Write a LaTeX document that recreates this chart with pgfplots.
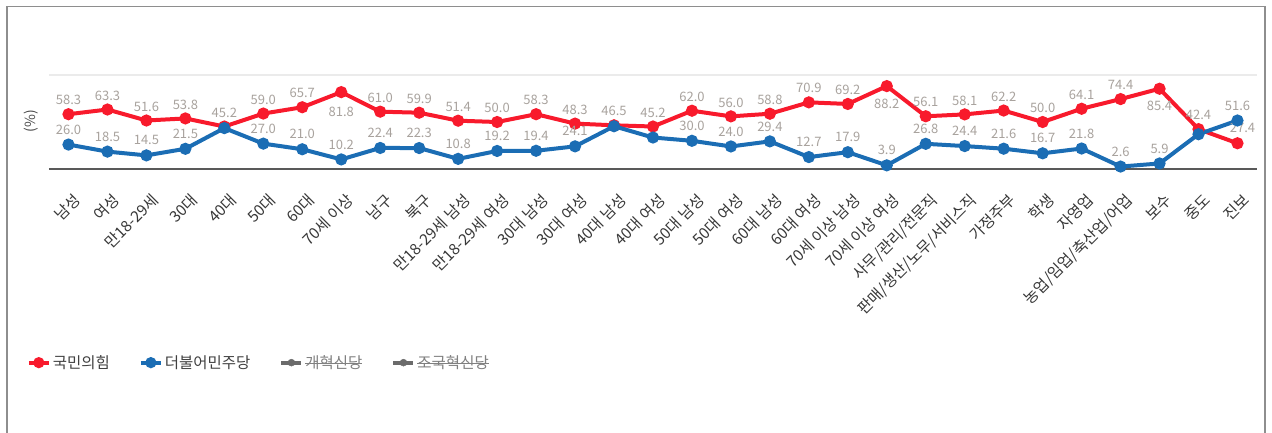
\documentclass[border=0pt]{standalone}
\usepackage{fontspec}
\setmainfont{Noto Sans CJK KR}
\usepackage{pgfplots}
\usepackage{pgfplotstable}
\pgfplotsset{compat=1.18}

\definecolor{ppp}{HTML}{F81A2C}
\definecolor{dem}{HTML}{1B6DB4}
\definecolor{labgray}{HTML}{A8A29D}
\definecolor{framegray}{HTML}{8E8E8E}
\definecolor{hidden}{HTML}{6B6B6B}

\newcommand\strike[1]{\setbox0\hbox{#1}\rlap{\rule[0.33em]{\wd0}{0.7pt}}\box0}

% x  value  label  yshift  xshift
\pgfplotstableread{
x y lab off xo
0 58.3 58.3 14 0
1 63.3 63.3 14 0
2 51.6 51.6 14 0
3 53.8 53.8 14 0
4 45.2 45.2 14 0
5 59.0 59.0 14 0
6 65.7 65.7 14 0
7 81.8 81.8 -20 0
8 61.0 61.0 14 0
9 59.9 59.9 14 0
10 51.4 51.4 14 0
11 50.0 50.0 14 0
12 58.3 58.3 14 0
13 48.3 48.3 14 0
14 46.5 46.5 14 0
15 45.2 45.2 14 0
16 62.0 62.0 14 0
17 56.0 56.0 14 0
18 58.8 58.8 14 0
19 70.9 70.9 14 0
20 69.2 69.2 14 0
21 88.2 88.2 -18 0
22 56.1 56.1 14 0
23 58.1 58.1 14 0
24 62.2 62.2 14 0
25 50.0 50.0 14 0
26 64.1 64.1 14 0
27 74.4 74.4 14 0
28 85.4 85.4 -17 0
29 42.4 42.4 14 0
30 27.4 27.4 15 5
}\pppdata

\pgfplotstableread{
x y lab off xo
0 26.0 26.0 15 0
1 18.5 18.5 15 0
2 14.5 14.5 15 0
3 21.5 21.5 15 0
4 43.5 {} 15 0
5 27.0 27.0 15 0
6 21.0 21.0 15 0
7 10.2 10.2 15 0
8 22.4 22.4 15 0
9 22.3 22.3 15 0
10 10.8 10.8 15 0
11 19.2 19.2 15 0
12 19.4 19.4 15 0
13 24.1 24.1 15 0
14 45.5 {} 15 0
15 33.5 {} 15 0
16 30.0 30.0 15 0
17 24.0 24.0 15 0
18 29.4 29.4 15 0
19 12.7 12.7 15 0
20 17.9 17.9 15 0
21 3.9 3.9 15 0
22 26.8 26.8 15 0
23 24.4 24.4 15 0
24 21.6 21.6 15 0
25 16.7 16.7 15 0
26 21.8 21.8 15 0
27 2.6 2.6 15 0
28 5.9 5.9 15 0
29 37.0 {} 15 0
30 51.6 51.6 15 0
}\demdata

\begin{document}
\begin{tikzpicture}
\useasboundingbox (0,0) rectangle (1272pt,-432pt);
\draw[framegray, line width=1.5pt] (7pt,-445pt) -- (7pt,-6.5pt) -- (1265pt,-6.5pt) -- (1265pt,-445pt);
\node[rotate=90, text=black!70, font=\fontsize{14}{16}\selectfont] at (31pt,-121pt) {(\%)};
\begin{axis}[
    at={(49pt,-169pt)}, anchor=south west,
    scale only axis, width=1208pt, height=94pt,
    xmin=-0.5, xmax=30.5, ymin=0, ymax=100,
    axis x line*=bottom, axis y line*=left,
    y axis line style={draw=none},
    x axis line style={-, draw=black!65, line width=1.5pt},
    ytick={100}, yticklabels={}, ymajorgrids,
    major grid style={draw=black!8, line width=1.5pt},
    major tick length=0pt,
    xtick={0,...,30},
    xticklabels={남성,여성,만18-29세,30대,40대,50대,60대,70세 이상,남구,북구,만18-29세 남성,만18-29세 여성,30대 남성,30대 여성,40대 남성,40대 여성,50대 남성,50대 여성,60대 남성,60대 여성,70세 이상 남성,70세 이상 여성,사무/관리/전문직,판매/생산/노무/서비스직,가정주부,학생,자영업,농업/임업/축산업/어업,보수,중도,진보},
    xticklabel style={rotate=45, anchor=north east, xshift=-10pt, yshift=-16pt,
        font=\fontsize{15.5}{17}\selectfont, text=black!78},
    clip=false,
    point meta=explicit symbolic,
    visualization depends on={\thisrow{off}\as\lofs},
    visualization depends on={\thisrow{xo}\as\lxs},
    nodes near coords,
    every node near coord/.append style={anchor=center, yshift=\lofs pt, xshift=\lxs pt,
        font=\fontsize{13}{15}\selectfont, text=labgray, inner sep=0pt},
    legend style={at={(rel axis cs:-0.021,-2.06)}, anchor=west, draw=none, fill=none,
        legend columns=-1, font=\fontsize{15.5}{17}\selectfont, text=black!75,
        /tikz/every odd column/.append style={column sep=0pt},
        /tikz/every even column/.append style={column sep=27pt}},
    legend image code/.code={
        \draw[line width=4pt, #1] (0pt,0pt) -- (20pt,0pt);
        \fill[#1] (10pt,0pt) circle (3.5pt);
    },
]
\addplot[color=ppp, line width=4pt, mark=*, mark size=4pt, mark options={draw=none}]
    table[x=x, y=y, meta=lab] {\pppdata};
\addplot[color=dem, line width=4pt, mark=*, mark size=4pt, mark options={draw=none}]
    table[x=x, y=y, meta=lab] {\demdata};
\addlegendimage{color=hidden}
\addlegendimage{color=hidden}
\legend{국민의힘,더불어민주당,{\color{black!50}\strike{개혁신당}},{\color{black!50}\strike{조국혁신당}}}
\end{axis}
\end{tikzpicture}
\end{document}
